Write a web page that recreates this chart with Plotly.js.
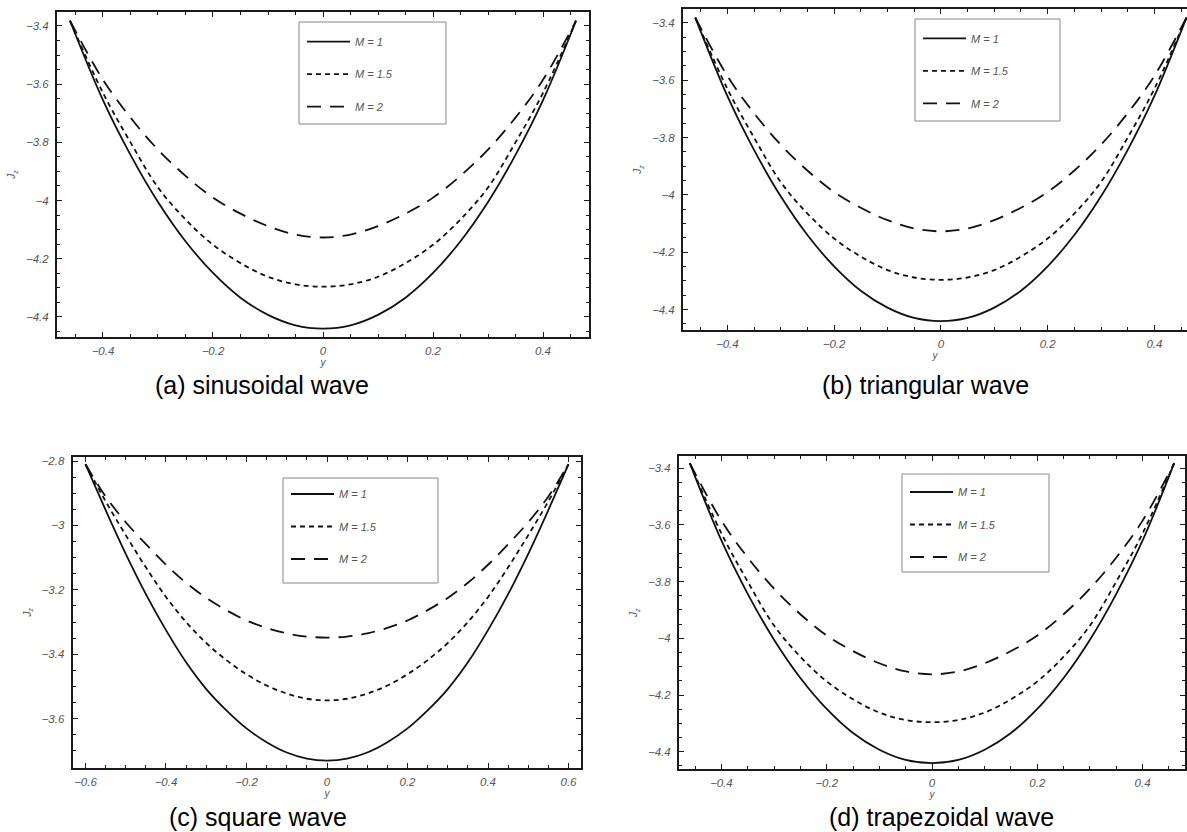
<!DOCTYPE html>
<html><head><meta charset="utf-8">
<script src="https://cdn.plot.ly/plotly-3.0.1.min.js"></script>
<style>html,body{margin:0;padding:0;background:#fff}#chart{width:1187px;height:832px}</style>
</head><body><div id="chart"></div>
<script>
// ---- data ----
const seriesNames = ['M = 1', 'M = 1.5', 'M = 2'];
const captions = ['(a) sinusoidal wave', '(b) triangular wave', '(c) square wave', '(d) trapezoidal wave'];

const yPos = [-0.46, -0.4, -0.35, -0.3, -0.25, -0.2, -0.15, -0.1, -0.05, 0, 0.05, 0.1, 0.15, 0.2, 0.25, 0.3, 0.35, 0.4, 0.46];

const sinM1  = [-3.382, -3.655, -3.843, -4.005, -4.140, -4.249, -4.334, -4.393, -4.429, -4.440, -4.429, -4.393, -4.334, -4.249, -4.140, -4.005, -3.843, -3.655, -3.382];
const sinM15 = [-3.382, -3.630, -3.800, -3.955, -4.065, -4.152, -4.215, -4.262, -4.288, -4.296, -4.288, -4.262, -4.215, -4.152, -4.065, -3.955, -3.800, -3.630, -3.382];
const sinM2  = [-3.382, -3.585, -3.715, -3.825, -3.915, -3.990, -4.045, -4.088, -4.117, -4.127, -4.117, -4.088, -4.045, -3.990, -3.915, -3.825, -3.715, -3.585, -3.382];

const triM1  = [-3.382, -3.655, -3.843, -4.005, -4.140, -4.249, -4.334, -4.393, -4.429, -4.440, -4.429, -4.393, -4.334, -4.249, -4.140, -4.005, -3.843, -3.655, -3.382];
const triM15 = [-3.382, -3.630, -3.800, -3.955, -4.065, -4.152, -4.215, -4.262, -4.288, -4.296, -4.288, -4.262, -4.215, -4.152, -4.065, -3.955, -3.800, -3.630, -3.382];
const triM2  = [-3.382, -3.585, -3.715, -3.825, -3.915, -3.990, -4.045, -4.088, -4.117, -4.127, -4.117, -4.088, -4.045, -3.990, -3.915, -3.825, -3.715, -3.585, -3.382];

const sqPos = [-0.6, -0.55, -0.5, -0.45, -0.4, -0.35, -0.3, -0.25, -0.2, -0.15, -0.1, -0.05, 0, 0.05, 0.1, 0.15, 0.2, 0.25, 0.3, 0.35, 0.4, 0.45, 0.5, 0.55, 0.6];
const sqM1  = [-2.810, -2.952, -3.088, -3.213, -3.325, -3.425, -3.508, -3.574, -3.630, -3.673, -3.705, -3.724, -3.730, -3.724, -3.705, -3.673, -3.630, -3.574, -3.508, -3.425, -3.325, -3.213, -3.088, -2.952, -2.810];
const sqM15 = [-2.810, -2.925, -3.030, -3.130, -3.222, -3.300, -3.365, -3.418, -3.462, -3.497, -3.522, -3.538, -3.543, -3.538, -3.522, -3.497, -3.462, -3.418, -3.365, -3.300, -3.222, -3.130, -3.030, -2.925, -2.810];
const sqM2  = [-2.810, -2.910, -2.990, -3.058, -3.122, -3.178, -3.225, -3.263, -3.295, -3.318, -3.335, -3.345, -3.348, -3.345, -3.335, -3.318, -3.295, -3.263, -3.225, -3.178, -3.122, -3.058, -2.990, -2.910, -2.810];

const trapM1  = [-3.382, -3.655, -3.843, -4.005, -4.140, -4.249, -4.334, -4.393, -4.429, -4.440, -4.429, -4.393, -4.334, -4.249, -4.140, -4.005, -3.843, -3.655, -3.382];
const trapM15 = [-3.382, -3.630, -3.800, -3.955, -4.065, -4.152, -4.215, -4.262, -4.288, -4.296, -4.288, -4.262, -4.215, -4.152, -4.065, -3.955, -3.800, -3.630, -3.382];
const trapM2  = [-3.382, -3.585, -3.715, -3.825, -3.915, -3.990, -4.045, -4.088, -4.117, -4.127, -4.117, -4.088, -4.045, -3.990, -3.915, -3.825, -3.715, -3.585, -3.382];

// ---- styling ----
const W = 1187, H = 832;
const FONT = 'Liberation Sans, Arial, sans-serif';
const dashes = ['solid', '5px,4px', '14px,9px'];
const panels = [
  {x: yPos, ys: [sinM1, sinM15, sinM2], ax: '', leg: 'legend'},
  {x: yPos, ys: [triM1, triM15, triM2], ax: '2', leg: 'legend2'},
  {x: sqPos, ys: [sqM1, sqM15, sqM2], ax: '3', leg: 'legend3'},
  {x: yPos, ys: [trapM1, trapM15, trapM2], ax: '4', leg: 'legend4'}
];

const traces = [];
panels.forEach((p, pi) => {
  p.ys.forEach((yy, si) => {
    traces.push({
      type: 'scatter', mode: 'lines', x: p.x, y: yy,
      name: seriesNames[si],
      xaxis: 'x' + p.ax, yaxis: 'y' + p.ax,
      legend: p.leg, legendgroup: 'g' + pi + '_' + si,
      line: {color: '#111', width: 1.8, dash: dashes[si], shape: 'spline', smoothing: 1},
      hoverinfo: 'skip'
    });
  });
});

const tickFont = {family: FONT, size: 11.5, color: '#555', style: 'italic'};
const titleFont = {family: FONT, size: 10, color: '#555', style: 'italic'};
function axis(domain, range, anchor, mirror, title, isY) {
  return {
    domain: domain, range: range, anchor: anchor,
    showline: true, linewidth: 2, linecolor: '#1a1a1a', mirror: mirror,
    ticks: 'inside', ticklen: 5, tickwidth: 1, tickcolor: '#1a1a1a',
    tick0: 0, dtick: 0.2,
    minor: {tick0: 0, dtick: 0.05, ticks: 'inside', ticklen: 3, tickwidth: 1, tickcolor: '#1a1a1a', showgrid: false},
    showgrid: false, zeroline: false, tickfont: tickFont,
    ticklabelstandoff: isY ? 4 : 2,
    title: {text: title, font: titleFont, standoff: isY ? 8 : 3},
    fixedrange: true
  };
}
const px = v => v / W;
const py = v => 1 - v / H;

const layout = {
  width: W, height: H,
  margin: {l: 0, r: 0, t: 0, b: 0},
  paper_bgcolor: '#fff', plot_bgcolor: '#fff',
  showlegend: true,
  font: {family: FONT},
  xaxis:  axis([px(57), px(589)], [-0.4836, 0.4836], 'y', 'ticks', 'y', false),
  yaxis:  axis([py(337), py(12)], [-4.469, -3.352], 'x', 'ticks', 'J<sub>z</sub>', true),
  xaxis2: axis([px(683), 1], [-0.483, 0.461], 'y2', 'ticks', 'y', false),
  yaxis2: axis([py(330), py(9)], [-4.471, -3.352], 'x2', false, 'J<sub>z</sub>', true),
  xaxis3: axis([px(72.6), px(581.4)], [-0.632, 0.632], 'y3', 'ticks', 'y', false),
  yaxis3: axis([py(768), py(456.5)], [-3.753, -2.786], 'x3', 'ticks', 'J<sub>z</sub>', true),
  xaxis4: axis([px(679), px(1185)], [-0.4805, 0.4805], 'y4', 'ticks', 'y', false),
  yaxis4: axis([py(769.3), py(456)], [-4.462, -3.357], 'x4', 'ticks', 'J<sub>z</sub>', true),
  shapes: [],
  annotations: []
};

const legendSpec = [
  {name: 'legend',  box: [299, 446, 22, 124], first: 41.7},
  {name: 'legend2', box: [915, 1060, 19, 121], first: 38.3},
  {name: 'legend3', box: [283, 438, 478, 583], first: 494},
  {name: 'legend4', box: [902, 1049, 474, 572], first: 492}
];
legendSpec.forEach(l => {
  layout[l.name] = {
    x: px(l.box[0] + 3), y: py(l.first - 14.5), xanchor: 'left', yanchor: 'top',
    bgcolor: 'rgba(0,0,0,0)', borderwidth: 0,
    font: {family: FONT, size: 11, color: '#555', style: 'italic'},
    tracegroupgap: 13.5, itemwidth: 43
  };
  layout.shapes.push({type: 'rect', xref: 'paper', yref: 'paper',
    x0: px(l.box[0]), x1: px(l.box[1]), y0: py(l.box[3]), y1: py(l.box[2]),
    line: {color: '#888', width: 1}});
});

const capPos = [[262, 385], [925, 385], [258, 817], [941, 817]];
captions.forEach((c, i) => {
  layout.annotations.push({text: c, xref: 'paper', yref: 'paper',
    x: px(capPos[i][0]), y: py(capPos[i][1]), xanchor: 'center', yanchor: 'middle',
    showarrow: false, font: {family: FONT, size: 25, color: '#000'}});
});

Plotly.newPlot('chart', traces, layout, {staticPlot: true, displayModeBar: false});
</script></body></html>
